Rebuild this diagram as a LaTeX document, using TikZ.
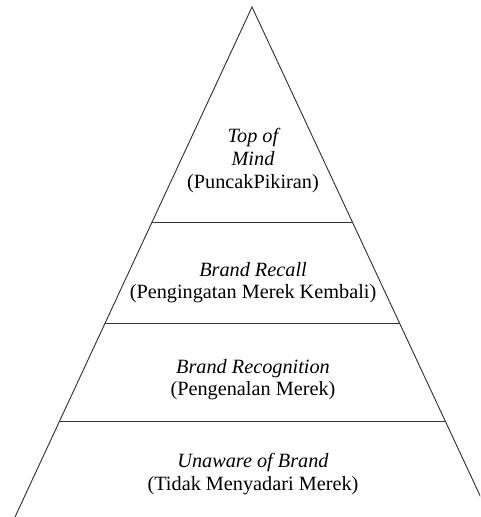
\documentclass[tikz,border=0pt]{standalone}
\usepackage{fontspec}
\setmainfont{Liberation Serif}
\begin{document}
\begin{tikzpicture}[x=0.75pt,y=-0.75pt,
  edge/.style={draw=black!80,line width=0.7pt},
  lbl/.style={anchor=base,inner sep=0pt,font=\fontsize{15.2}{16.5}\selectfont},
  ilbl/.style={lbl,font=\fontsize{15.2}{16.5}\selectfont\itshape}]
\useasboundingbox (0,0) rectangle (480,517);
\clip (0,0) rectangle (480,517);
% pyramid outline
\coordinate (apex) at (252,7);
\coordinate (bl) at (15,517);
\coordinate (br) at (490,517);
\draw[edge] (bl) -- (apex) -- (br);
% dividers
\coordinate (l1) at (152.1,222); \coordinate (r1) at (352.4,222);
\coordinate (l2) at (105.2,323); \coordinate (r2) at (399.6,323);
\coordinate (l3) at (59.6,421);  \coordinate (r3) at (445.3,421);
\draw[edge] (l1) -- (r1);
\draw[edge] (l2) -- (r2);
\draw[edge] (l3) -- (r3);
% labels
\node[ilbl] (t1) at (253,142) {Top of};
\node[ilbl] (t2) at (253,165) {Mind};
\node[lbl]  (t3) at (253,188) {(PuncakPikiran)};
\node[ilbl] (r1l) at (253,276) {Brand Recall};
\node[lbl]  (r2l) at (253,298) {(Pengingatan Merek Kembali)};
\node[ilbl] (g1) at (253,373) {Brand Recognition};
\node[lbl]  (g2) at (253,395) {(Pengenalan Merek)};
\node[ilbl] (u1) at (253,467) {Unaware of Brand};
\node[lbl]  (u2) at (253,490) {(Tidak Menyadari Merek)};
\end{tikzpicture}
\end{document}
